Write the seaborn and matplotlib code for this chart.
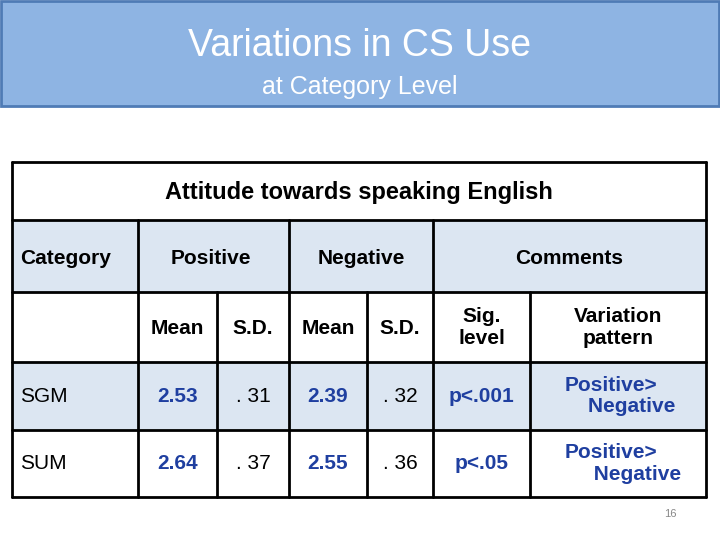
import matplotlib.pyplot as plt
import seaborn as sns
from matplotlib.patches import Rectangle

sns.set_theme(style="white")
plt.rcParams["font.family"] = ["Liberation Sans", "DejaVu Sans"]
plt.rcParams["text.color"] = "black"

title = "Variations in CS Use"
subtitle = "at Category Level"
table_title = "Attitude towards speaking English"
groups = ["Category", "Positive", "Negative", "Comments"]
subheads = ["", "Mean", "S.D.", "Mean", "S.D.", "Sig.\nlevel", "Variation\npattern"]
categories = ["SGM", "SUM"]
pos_mean = ["2.53", "2.64"]
pos_sd = [". 31", ". 37"]
neg_mean = ["2.39", "2.55"]
neg_sd = [". 32", ". 36"]
sig = ["p<.001", "p<.05"]
pattern = ["Positive>\n    Negative", "Positive>\n     Negative"]

BLUE_TXT = "#1F3FA0"
FILL = "#DCE6F2"

fig = plt.figure(figsize=(7.2, 5.4), dpi=100)
ax = fig.add_axes([0, 0, 1, 1])
ax.set_xlim(0, 720)
ax.set_ylim(540, 0)
ax.axis("off")

# banner
ax.add_patch(Rectangle((1, 1), 718, 105, facecolor="#8EB4E3", edgecolor="#4F7BB5", lw=2))
ax.text(360, 46, title, color="white", fontsize=27, ha="center", va="center")
ax.text(360, 87, subtitle, color="white", fontsize=18, ha="center", va="center")

xs = [12, 138, 217, 289, 367, 433, 530, 706]
ys = [162, 220, 292, 362, 430, 497]

for y0, y1 in [(ys[1], ys[2]), (ys[3], ys[4])]:
    ax.add_patch(Rectangle((xs[0], y0), xs[-1] - xs[0], y1 - y0, facecolor=FILL, edgecolor="none"))

lw = 2
for y in ys:
    ax.plot([xs[0], xs[-1]], [y, y], color="black", lw=lw)
ax.plot([xs[0]] * 2, [ys[0], ys[-1]], color="black", lw=lw)
ax.plot([xs[-1]] * 2, [ys[0], ys[-1]], color="black", lw=lw)
for i in [1, 3, 5]:
    ax.plot([xs[i]] * 2, [ys[1], ys[-1]], color="black", lw=lw)
for i in [2, 4, 6]:
    ax.plot([xs[i]] * 2, [ys[2], ys[-1]], color="black", lw=lw)

fs = 15
ax.text((xs[0] + xs[-1]) / 2, 192, table_title, fontsize=17, weight="bold", ha="center", va="center")
yh = 259
ax.text(xs[0] + 8, yh, groups[0], fontsize=fs, weight="bold", ha="left", va="center")
ax.text((xs[1] + xs[3]) / 2 - 3, yh, groups[1], fontsize=fs, weight="bold", ha="center", va="center")
ax.text((xs[3] + xs[5]) / 2, yh, groups[2], fontsize=fs, weight="bold", ha="center", va="center")
ax.text((xs[5] + xs[7]) / 2, yh, groups[3], fontsize=fs, weight="bold", ha="center", va="center")

for i, s in enumerate(subheads):
    if s:
        ax.text((xs[i] + xs[i + 1]) / 2, 328, s, fontsize=fs, weight="bold", ha="center", va="center", linespacing=1.2)

rows = zip(categories, pos_mean, pos_sd, neg_mean, neg_sd, sig, pattern)
for r, (cat, pm, psd, nm, nsd, sg, pt) in enumerate(rows):
    yc = (ys[3 + r] + ys[4 + r]) / 2
    ax.text(xs[0] + 8, yc, cat, fontsize=fs, ha="left", va="center")
    ax.text((xs[1] + xs[2]) / 2, yc, pm, fontsize=fs, weight="bold", color=BLUE_TXT, ha="center", va="center")
    ax.text((xs[2] + xs[3]) / 2, yc, psd, fontsize=fs, ha="center", va="center")
    ax.text((xs[3] + xs[4]) / 2, yc, nm, fontsize=fs, weight="bold", color=BLUE_TXT, ha="center", va="center")
    ax.text((xs[4] + xs[5]) / 2, yc, nsd, fontsize=fs, ha="center", va="center")
    ax.text((xs[5] + xs[6]) / 2, yc, sg, fontsize=fs, weight="bold", color=BLUE_TXT, ha="center", va="center")
    ax.text(565, yc, pt, fontsize=fs, weight="bold", color=BLUE_TXT, ha="left", va="center", linespacing=1.15)

ax.text(670, 514, "16", fontsize=8, color="#888888", ha="center", va="center")

fig.savefig("out.png", dpi=100)
